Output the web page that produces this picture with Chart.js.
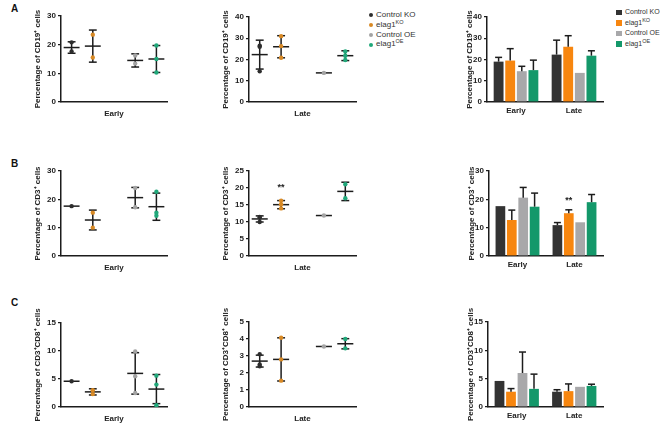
<!DOCTYPE html>
<html><head><meta charset="utf-8">
<script src="https://cdn.jsdelivr.net/npm/chart.js@4/dist/chart.umd.min.js"></script>
<style>
body{margin:0;width:663px;height:433px;position:relative;background:#fff;font-family:'Liberation Sans',Arial,sans-serif;overflow:hidden}
.box{position:absolute}
.letter{position:absolute;font-weight:bold;font-size:10px;color:#111}
.lg{position:absolute;font-size:8px;color:#333;line-height:9.8px;white-space:nowrap}
.lg div{position:relative;height:9.8px;padding-left:7px}
.lg i{position:absolute;left:0;top:3.4px;width:4px;height:4px;border-radius:50%}
.lg2{position:absolute;font-size:7px;color:#333;line-height:10.6px;white-space:nowrap}
.lg2 div{position:relative;height:10.6px;padding-left:9px}
.lg2 i{position:absolute;left:0;top:2.5px;width:6px;height:5.5px}
sup{font-size:5.5px;vertical-align:3px;line-height:0}
</style>
</head><body>
<div class="letter" style="left:11px;top:3px">A</div>
<div class="letter" style="left:11px;top:158px">B</div>
<div class="letter" style="left:11px;top:297px">C</div>

<div class="lg" style="left:369px;top:10px">
 <div><i style="background:#2d2d2d"></i>Control KO</div>
 <div><i style="background:#d98a25"></i>elag1<sup>KO</sup></div>
 <div><i style="background:#a3a3a3"></i>Control OE</div>
 <div><i style="background:#20a87a"></i>elag1<sup>OE</sup></div>
</div>
<div class="lg2" style="left:616px;top:7px">
 <div><i style="background:#333333"></i>Control KO</div>
 <div><i style="background:#f7860f"></i>elag1<sup>KO</sup></div>
 <div><i style="background:#a8a8aa"></i>Control OE</div>
 <div><i style="background:#14986a"></i>elag1<sup>OE</sup></div>
</div>

<script>
// ---------------- DATA ----------------
const groupNames = ['Control KO', 'elag1 KO', 'Control OE', 'elag1 OE'];
const timepoints = ['Early', 'Late'];

// CD19+ (A)
const cd19EarlyMean = [19.0, 19.5, 14.5, 15.0];
const cd19EarlySD   = [2.0, 5.6, 2.3, 4.7];
const cd19EarlyPts  = [[20.8, 17.6], [23.5, 15.5], [16.2, 13.4], [19.7, 15.0, 10.3]];
const cd19LateMean  = [22.3, 26.0, 13.7, 21.8];
const cd19LateSD    = [6.8, 5.2, 0, 2.3];
const cd19LatePts   = [[26.5, 26.0, 14.5], [31.0, 26.3, 20.8], [13.7], [23.8, 19.8, 21.8]];

// CD3+ (B)
const cd3EarlyMean = [17.6, 12.7, 20.6, 17.4];
const cd3EarlySD   = [0, 3.5, 3.6, 4.8];
const cd3EarlyPts  = [[17.6], [15.3, 10.0], [24.0, 17.2], [22.7, 15.3, 14.2]];
const cd3LateMean  = [10.9, 15.1, 11.9, 19.0];
const cd3LateSD    = [0.9, 1.2, 0, 2.7];
const cd3LatePts   = [[11.3, 10.0, 11.5], [16.3, 15.2, 14.0], [11.9], [21.1, 17.0]];
const cd3LateSig   = ['', '**', '', ''];

// CD3+CD8+ (C)
const cd8EarlyMean = [4.6, 2.7, 6.0, 3.2];
const cd8EarlySD   = [0, 0.55, 3.7, 2.6];
const cd8EarlyPts  = [[4.6], [3.0, 2.3], [9.9, 5.5, 2.5], [5.6, 4.0, 0.3]];
const cd8LateMean  = [2.7, 2.8, 3.56, 3.72];
const cd8LateSD    = [0.35, 1.27, 0, 0.3];
const cd8LatePts   = [[3.1, 2.5, 2.4], [4.07, 2.8, 1.55], [3.56], [4.0, 3.45]];
const noSig = ['', '', '', ''];

// ---------------- STYLE / LAYOUT ----------------
const GROUP_X = [1, 3, 7, 9];
const MEAN_HALF = 0.75, CAP_HALF = 0.37;
const pointColors = ['#2d2d2d', '#d98a25', '#a3a3a3', '#20a87a'];
const barColors = ['#333333', '#f7860f', '#a8a8aa', '#14986a'];
const INK = '#1c1c1c';
const FONT = "'Liberation Sans', Arial, sans-serif";

function yAxis(max, step, title, yw) {
  return {
    min: 0, max: max,
    afterFit: s => { s.width = yw; },
    ticks: { stepSize: step, font: { family: FONT, size: 8, weight: 'bold' }, color: '#222', padding: 2 },
    grid: { display: true, drawOnChartArea: false, drawTicks: true, tickLength: 3, color: INK, lineWidth: 1.2 },
    border: { display: true, color: INK, width: 1.5 },
    title: { display: true, text: title, font: { family: FONT, size: 8, weight: 'bold' }, color: '#222', padding: { top: 4, bottom: 0 } }
  };
}

function place(area, yw) {
  const PT = 18, PR = 4, XH = 21;
  const L = area.l - yw, T = area.t - PT;
  const W = area.r - L + PR, H = area.b - T + XH;
  const div = document.createElement('div');
  div.className = 'box';
  div.style.left = L + 'px'; div.style.top = T + 'px';
  div.style.width = W + 'px'; div.style.height = H + 'px';
  const c = document.createElement('canvas');
  c.width = W; c.height = H;
  c.style.width = W + 'px'; c.style.height = H + 'px';
  div.appendChild(c);
  document.body.appendChild(div);
  return { canvas: c, PT, PR, XH };
}

function line(ctx, x1, y1, x2, y2) { ctx.beginPath(); ctx.moveTo(x1, y1); ctx.lineTo(x2, y2); ctx.stroke(); }

function scatterPanel(area, mean, sd, pts, yMax, yStep, yTitle, xTitle, sig) {
  const yw = 32;
  const p = place(area, yw);
  const plug = {
    id: 'meanSd',
    beforeDatasetsDraw(chart) {
      const xs = chart.scales.x, ys = chart.scales.y, ctx = chart.ctx;
      ctx.save(); ctx.strokeStyle = INK; ctx.lineWidth = 1.5;
      mean.forEach((m, g) => {
        const cx = xs.getPixelForValue(GROUP_X[g]);
        const mw = xs.getPixelForValue(GROUP_X[g] + MEAN_HALF) - cx;
        const cw = xs.getPixelForValue(GROUP_X[g] + CAP_HALF) - cx;
        const ym = ys.getPixelForValue(m);
        line(ctx, cx - mw, ym, cx + mw, ym);
        if (sd[g] > 0) {
          const yt = ys.getPixelForValue(m + sd[g]), yb = ys.getPixelForValue(m - sd[g]);
          line(ctx, cx, yt, cx, yb);
          line(ctx, cx - cw, yt, cx + cw, yt);
          line(ctx, cx - cw, yb, cx + cw, yb);
        }
      });
      ctx.restore();
    },
    afterDatasetsDraw(chart) {
      const xs = chart.scales.x, ys = chart.scales.y, ctx = chart.ctx;
      ctx.save(); ctx.fillStyle = '#222'; ctx.font = "bold 9px " + FONT;
      ctx.textAlign = 'center'; ctx.textBaseline = 'middle';
      sig.forEach((s, g) => {
        if (!s) return;
        ctx.fillText(s, xs.getPixelForValue(GROUP_X[g]), ys.getPixelForValue(mean[g] + sd[g]) - 13);
      });
      ctx.restore();
    }
  };
  new Chart(p.canvas, {
    type: 'scatter',
    data: {
      datasets: pts.map((arr, g) => ({
        label: groupNames[g],
        data: arr.map(v => ({ x: GROUP_X[g], y: v })),
        backgroundColor: pointColors[g], borderWidth: 0, pointRadius: 2.2
      }))
    },
    options: {
      responsive: false, animation: false, devicePixelRatio: 1,
      layout: { padding: { top: p.PT, right: p.PR, left: 0, bottom: 0 } },
      plugins: { legend: { display: false }, tooltip: { enabled: false } },
      scales: {
        x: {
          type: 'linear', min: 0, max: 10,
          afterFit: s => { s.height = p.XH; },
          ticks: { display: false },
          grid: { display: false, drawTicks: false },
          border: { display: true, color: INK, width: 1.5 },
          title: { display: true, text: xTitle, font: { family: FONT, size: 8, weight: 'bold' }, color: '#222', padding: { top: 0, bottom: 4 } }
        },
        y: yAxis(yMax, yStep, yTitle, yw)
      }
    },
    plugins: [plug]
  });
}

function barPanel(area, earlyMean, earlySD, lateMean, lateSD, yMax, yStep, yTitle, lateSig) {
  const yw = 26;
  const p = place(area, yw);
  const sds = [earlySD, lateSD];
  const plug = {
    id: 'barErr',
    afterDatasetsDraw(chart) {
      const ys = chart.scales.y, ctx = chart.ctx;
      ctx.save(); ctx.strokeStyle = INK; ctx.lineWidth = 1.5;
      chart.data.datasets.forEach((ds, g) => {
        const meta = chart.getDatasetMeta(g);
        ds.data.forEach((v, i) => {
          const sd = sds[i][g];
          const bar = meta.data[i];
          if (sd > 0) {
            const yt = ys.getPixelForValue(v + sd);
            line(ctx, bar.x, bar.y, bar.x, yt);
            line(ctx, bar.x - 3.5, yt, bar.x + 3.5, yt);
          }
          if (i === 1 && lateSig[g]) {
            ctx.fillStyle = '#222'; ctx.font = "bold 9px " + FONT;
            ctx.textAlign = 'center'; ctx.textBaseline = 'middle';
            ctx.fillText(lateSig[g], bar.x, ys.getPixelForValue(v + sd) - 9);
          }
        });
      });
      ctx.restore();
    }
  };
  new Chart(p.canvas, {
    type: 'bar',
    data: {
      labels: timepoints,
      datasets: groupNames.map((n, g) => ({
        label: n,
        data: [earlyMean[g], lateMean[g]],
        backgroundColor: barColors[g], borderWidth: 0,
        categoryPercentage: 0.8, barPercentage: 0.85
      }))
    },
    options: {
      responsive: false, animation: false, devicePixelRatio: 1,
      layout: { padding: { top: p.PT, right: p.PR, left: 0, bottom: 0 } },
      plugins: { legend: { display: false }, tooltip: { enabled: false } },
      scales: {
        x: {
          afterFit: s => { s.height = p.XH; },
          ticks: { font: { family: FONT, size: 8, weight: 'bold' }, color: '#222', padding: 4 },
          grid: { display: false, drawTicks: false },
          border: { display: true, color: INK, width: 1.5 }
        },
        y: yAxis(yMax, yStep, yTitle, yw)
      }
    },
    plugins: [plug]
  });
}

const t19 = 'Percentage of CD19\u207A cells';
const t3 = 'Percentage of CD3\u207A cells';
const t38 = 'Percentage of CD3\u207ACD8\u207A cells';

scatterPanel({ l: 61, r: 167, t: 16, b: 102 }, cd19EarlyMean, cd19EarlySD, cd19EarlyPts, 30, 10, t19, 'Early', noSig);
scatterPanel({ l: 249, r: 356, t: 17, b: 102 }, cd19LateMean, cd19LateSD, cd19LatePts, 40, 10, t19, 'Late', noSig);
barPanel({ l: 487, r: 603, t: 17, b: 102 }, cd19EarlyMean, cd19EarlySD, cd19LateMean, cd19LateSD, 40, 10, t19, noSig);

scatterPanel({ l: 61, r: 167, t: 171, b: 256 }, cd3EarlyMean, cd3EarlySD, cd3EarlyPts, 30, 10, t3, 'Early', noSig);
scatterPanel({ l: 249, r: 356, t: 171, b: 256 }, cd3LateMean, cd3LateSD, cd3LatePts, 25, 5, t3, 'Late', cd3LateSig);
barPanel({ l: 489, r: 603, t: 171, b: 256 }, cd3EarlyMean, cd3EarlySD, cd3LateMean, cd3LateSD, 30, 10, t3, cd3LateSig);

scatterPanel({ l: 61, r: 167, t: 323, b: 407 }, cd8EarlyMean, cd8EarlySD, cd8EarlyPts, 15, 5, t38, 'Early', noSig);
scatterPanel({ l: 249, r: 356, t: 322, b: 407 }, cd8LateMean, cd8LateSD, cd8LatePts, 5, 1, t38, 'Late', noSig);
barPanel({ l: 488, r: 603, t: 322, b: 407 }, cd8EarlyMean, cd8EarlySD, cd8LateMean, cd8LateSD, 15, 5, t38, noSig);
</script>
</body></html>
